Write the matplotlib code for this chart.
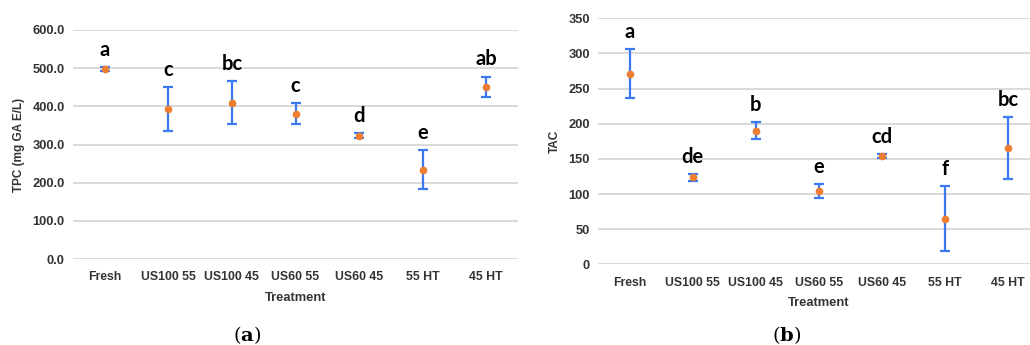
import matplotlib
matplotlib.use("Agg")
import matplotlib.pyplot as plt

# data
treatments = ["Fresh", "US100 55", "US100 45", "US60 55", "US60 45", "55 HT", "45 HT"]

tpc_mean = [497, 393, 410, 381, 323, 234, 451]
tpc_err = [5, 57, 57, 28, 7, 51, 27]
tpc_letters = ["a", "c", "bc", "c", "d", "e", "ab"]

tac_mean = [271, 124, 190, 104, 154, 65, 166]
tac_err = [35, 5, 12, 10, 3, 46, 44]
tac_letters = ["a", "de", "b", "e", "cd", "f", "bc"]

ytick_font = dict(family="Liberation Sans", weight="bold", size=9.3, color="#333333")
xtick_font = dict(family="Liberation Sans", weight="bold", size=8.8, color="#333333")
letter_font = dict(family="Lato", weight="bold", size=14.5, color="black")


def draw_panel(ax, means, errs, letters, ylabel, yticks, fmt):
    x = list(range(len(treatments)))
    ax.errorbar(x, means, yerr=errs, fmt="o", color="#ED7D31", markersize=4.5,
                ecolor="#3C78F0", elinewidth=1.6, capsize=3.5, capthick=1.6, zorder=3)
    for i in x:
        ax.annotate(letters[i], (i, means[i] + errs[i]), xytext=(0, 8),
                    textcoords="offset points", ha="center", va="baseline", **letter_font)
    ax.set_xlim(-0.5, 6.5)
    ax.set_ylim(yticks[0], yticks[-1])
    ax.set_yticks(yticks)
    ax.set_yticklabels([fmt.format(v) for v in yticks], **ytick_font)
    ax.set_xticks(x)
    ax.set_xticklabels(treatments, **xtick_font)
    ax.tick_params(length=0, axis="y", pad=6)
    ax.tick_params(length=0, axis="x", pad=9)
    ax.grid(axis="y", color="#d9d9d9", linewidth=1.4)
    ax.set_axisbelow(True)
    for s in ax.spines.values():
        s.set_visible(False)
    ax.set_xlabel("Treatment", family="Liberation Sans", weight="bold", size=9.3,
                  color="#333333", labelpad=6)
    ax.set_ylabel(ylabel, family="Liberation Sans", weight="bold", size=8.5,
                  color="#333333", labelpad=5)


fig = plt.figure(figsize=(10.3, 3.45), dpi=100)

ax1 = fig.add_axes([73 / 1030, 86 / 345, 445 / 1030, 229 / 345])
draw_panel(ax1, tpc_mean, tpc_err, tpc_letters, "TPC (mg GA E/L)",
           [0, 100, 200, 300, 400, 500, 600], "{:.1f}")

ax2 = fig.add_axes([598 / 1030, 80.7 / 345, 441.5 / 1030, 246 / 345])
draw_panel(ax2, tac_mean, tac_err, tac_letters, "TAC",
           [0, 50, 100, 150, 200, 250, 300, 350], "{:d}")

plt.rcParams["mathtext.fontset"] = "dejavuserif"
fig.text(247 / 1030, 10 / 345, r"$\mathrm{(}\mathbf{a}\mathrm{)}$", ha="center",
         va="center", size=14)
fig.text(787 / 1030, 10 / 345, r"$\mathrm{(}\mathbf{b}\mathrm{)}$", ha="center",
         va="center", size=14)

fig.savefig("out.png", dpi=100)
